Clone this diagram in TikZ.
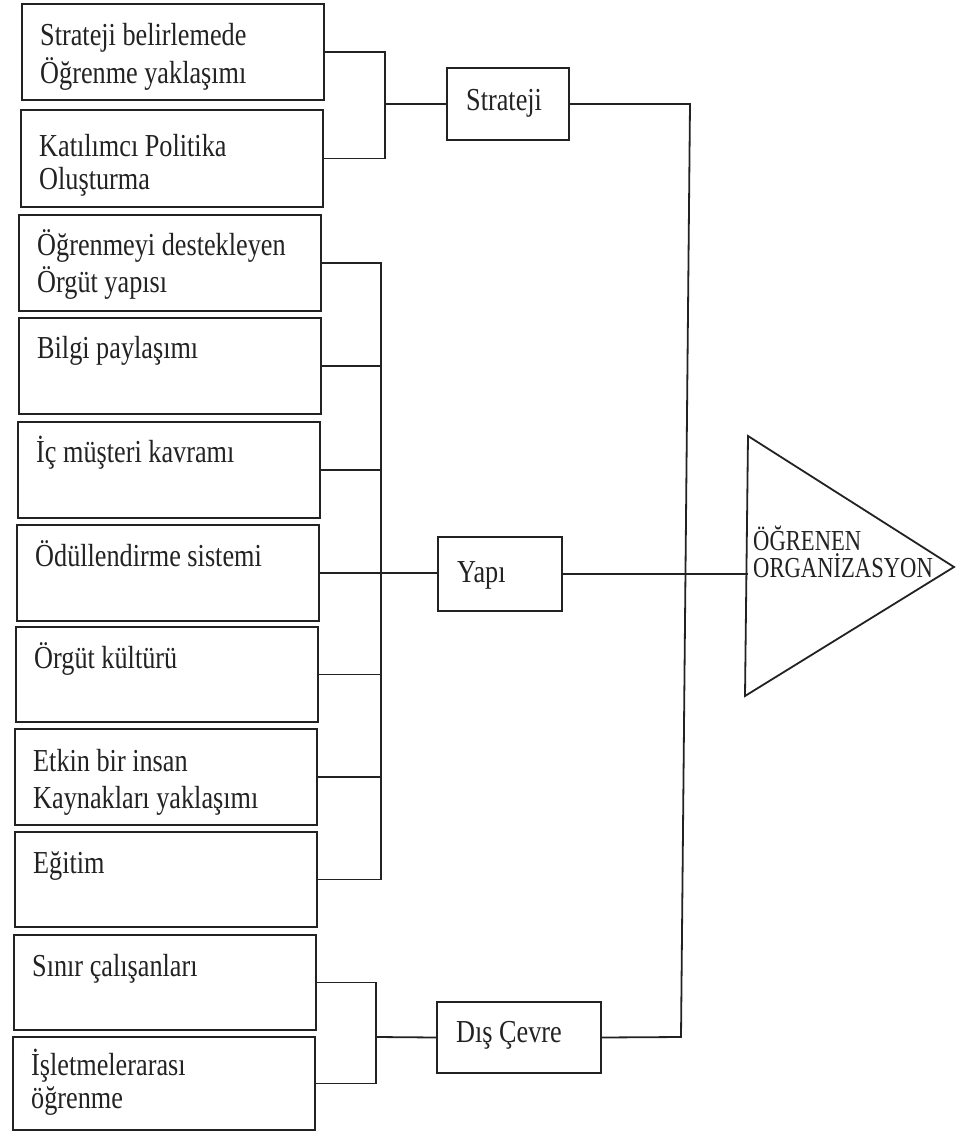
\documentclass[tikz,border=0pt]{standalone}
\usepackage{fontspec}
\setmainfont{Liberation Serif}[FakeStretch=0.82]
\newfontfamily\trifont{Liberation Serif}[FakeStretch=0.78]
\definecolor{ink}{HTML}{222222}
\begin{document}
\begin{tikzpicture}[x=1pt,y=-1pt,
  box/.style={draw=ink, line width=1.8pt, inner sep=0pt, outer sep=0pt, anchor=north west},
  item/.style={box, minimum width=302pt, minimum height=96pt},
  wire/.style={draw=ink, line width=1.8pt},
  lbl/.style={anchor=base west, inner sep=0pt, text=ink, font=\fontsize{32}{37}\selectfont},
  tlbl/.style={anchor=base west, inner sep=0pt, text=ink, font=\trifont\fontsize{29}{27}\selectfont},
  ]
\useasboundingbox (0,0) rectangle (965,1132);

% left column of factor boxes
\node[item] (b1)  at (22,4)    {};
\node[item, minimum height=97pt] (b2)  at (21,110)  {};
\node[item] (b3)  at (19,215)  {};
\node[item] (b4)  at (19,318)  {};
\node[item] (b5)  at (18,422)  {};
\node[item] (b6)  at (17,525)  {};
\node[item, minimum height=95pt] (b7)  at (16,627)  {};
\node[item] (b8)  at (15,729)  {};
\node[item, minimum height=95pt] (b9)  at (15,832)  {};
\node[item, minimum height=95pt] (b10) at (14,935)  {};
\node[item, minimum height=93pt] (b11) at (13,1037) {};

% box texts
\node[lbl] (t1a) at (40,46)  {Strateji belirlemede};
\node[lbl] (t1b) at (40,83)  {Öğrenme yaklaşımı};
\node[lbl] (t2a) at (39,156) {Katılımcı Politika};
\node[lbl] (t2b) at (39,189) {Oluşturma};
\node[lbl] (t3a) at (37,255) {Öğrenmeyi destekleyen};
\node[lbl] (t3b) at (37,292) {Örgüt yapısı};
\node[lbl] (t4)  at (37,358) {Bilgi paylaşımı};
\node[lbl] (t5)  at (36,462) {İç müşteri kavramı};
\node[lbl] (t6)  at (35,566) {Ödüllendirme sistemi};
\node[lbl] (t7)  at (34,668) {Örgüt kültürü};
\node[lbl] (t8a) at (33,771) {Etkin bir insan};
\node[lbl] (t8b) at (33,808) {Kaynakları yaklaşımı};
\node[lbl] (t9)  at (33,873) {Eğitim};
\node[lbl] (t10) at (32,976) {Sınır çalışanları};
\node[lbl] (t11a) at (31,1075) {İşletmelerarası};
\node[lbl] (t11b) at (31,1108) {öğrenme};

% middle column
\node[box, minimum width=122pt, minimum height=72pt] (str) at (447,68)   {};
\node[box, minimum width=124pt, minimum height=74pt] (yap) at (438,537)  {};
\node[box, minimum width=164pt, minimum height=71pt] (dis) at (437,1002) {};
\node[lbl] (tstr) at (466,110)  {Strateji};
\node[lbl] (tyap) at (457,582)  {Yapı};
\node[lbl] (tdis) at (456,1042) {Dış Çevre};

% bracket junctions and trunk corners
\coordinate (sbr) at (385,104);
\coordinate (ybr) at (381,574);
\coordinate (dbr) at (376,1037);
\coordinate (rt)  at (690,104);
\coordinate (rb)  at (681,1037);

% result triangle
\coordinate (tA) at (748,436);
\coordinate (tB) at (954,567);
\coordinate (tC) at (745,696);
\draw[wire, line join=miter] (tA) -- (tB) -- (tC) -- cycle;
\node[tlbl] (o1) at (753,550) {ÖĞRENEN};
\node[tlbl] (o2) at (753,577) {ORGANİZASYON};

% strategy bracket
\draw[wire] (b1.east) -- (b1.east -| sbr) -- (b2.east -| sbr) -- (b2.east);
\draw[wire] (sbr) -- (str.west);

% structure bracket
\draw[wire] (b3.east) -- (b3.east -| ybr) -- (b9.east -| ybr) -- (b9.east);
\foreach \b in {b4,b5,b7,b8}
  \draw[wire] (\b.east) -- (\b.east -| ybr);
\draw[wire] (b6.east) -- (b6.east -| yap.west);

% environment bracket
\draw[wire] (b10.east) -- (b10.east -| dbr) -- (b11.east -| dbr) -- (b11.east);
\draw[wire] (dbr) -- (dis.west);

% trunk into the triangle
\draw[wire] (str.east) -- (rt) -- (rb) -- (dis.east);
\draw[wire] (yap.east) -- (yap.east -| tA);
\end{tikzpicture}
\end{document}
